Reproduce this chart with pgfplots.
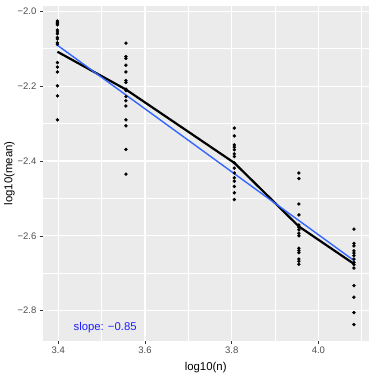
\documentclass[border=0pt]{standalone}
\usepackage{pgfplots}
\pgfplotsset{compat=1.18}
\usepackage{fontspec}
\setmainfont{Liberation Sans}
\definecolor{panelgrey}{HTML}{EBEBEB}
\definecolor{ticktext}{HTML}{4D4D4D}
\definecolor{smoothblue}{HTML}{3366FF}
\definecolor{labelblue}{RGB}{30,30,255}

\begin{document}
\begin{tikzpicture}
\begin{axis}[
  name=ax,
  scale only axis,
  width=326pt, height=335.3pt,
  xmin=3.364, xmax=4.116,
  ymin=-2.881, ymax=-1.985,
  axis background/.style={fill=panelgrey},
  axis x line*=bottom, axis y line*=left,
  axis line style={draw=none},
  xtick={3.4,3.6,3.8,4.0},
  xticklabels={3.4,3.6,3.8,4.0},
  ytick={-2.8,-2.6,-2.4,-2.2,-2.0},
  yticklabels={−2.8,−2.6,−2.4,−2.2,−2.0},
  minor xtick={3.5,3.7,3.9,4.1},
  minor ytick={-2.7,-2.5,-2.3,-2.1},
  grid=both,
  major grid style={white, line width=1.1pt},
  minor grid style={white, line width=0.55pt},
  tick align=outside,
  major tick length=2.75pt,
  minor tick length=0pt,
  tick style={draw=black!80, line width=0.5pt},
  tick label style={font=\fontsize{9.5}{11}\selectfont, text=ticktext},
  label style={font=\fontsize{11.4}{13}\selectfont},
  xlabel={log10(n)},
  ylabel={log10(mean)},
  xlabel style={yshift=-1.5pt},
  ylabel style={yshift=-4pt},
  clip=false,
]
\addplot [only marks, mark=*, mark size=1.5pt, black] table[row sep=\\]{
x y\\
3.398 -2.026\\ 3.398 -2.029\\ 3.398 -2.032\\ 3.398 -2.036\\ 3.398 -2.050\\
3.398 -2.055\\ 3.398 -2.060\\ 3.398 -2.070\\ 3.398 -2.074\\ 3.398 -2.084\\
3.398 -2.088\\ 3.398 -2.137\\ 3.398 -2.149\\ 3.398 -2.162\\ 3.398 -2.199\\
3.398 -2.226\\ 3.398 -2.290\\
3.556 -2.085\\ 3.556 -2.121\\ 3.556 -2.126\\ 3.556 -2.144\\ 3.556 -2.162\\
3.556 -2.185\\ 3.556 -2.190\\ 3.556 -2.208\\ 3.556 -2.212\\ 3.556 -2.228\\
3.556 -2.239\\ 3.556 -2.253\\ 3.556 -2.290\\ 3.556 -2.306\\ 3.556 -2.369\\
3.556 -2.435\\
3.806 -2.312\\ 3.806 -2.333\\ 3.806 -2.357\\ 3.806 -2.363\\ 3.806 -2.370\\
3.806 -2.381\\ 3.806 -2.388\\ 3.806 -2.405\\ 3.806 -2.419\\ 3.806 -2.432\\
3.806 -2.445\\ 3.806 -2.454\\ 3.806 -2.468\\ 3.806 -2.485\\ 3.806 -2.503\\
3.955 -2.432\\ 3.955 -2.447\\ 3.955 -2.515\\ 3.955 -2.544\\ 3.955 -2.571\\
3.955 -2.577\\ 3.955 -2.584\\ 3.955 -2.593\\ 3.955 -2.600\\ 3.955 -2.633\\
3.955 -2.639\\ 3.955 -2.645\\ 3.955 -2.662\\ 3.955 -2.668\\ 3.955 -2.676\\
4.082 -2.582\\ 4.082 -2.620\\ 4.082 -2.627\\ 4.082 -2.640\\ 4.082 -2.646\\
4.082 -2.653\\ 4.082 -2.662\\ 4.082 -2.671\\ 4.082 -2.677\\ 4.082 -2.686\\
4.082 -2.733\\ 4.082 -2.764\\ 4.082 -2.805\\ 4.082 -2.837\\
};
% mean per n
\addplot [black, line width=2.2pt] coordinates {
(3.398,-2.108) (3.556,-2.209) (3.806,-2.405) (3.955,-2.575) (4.082,-2.675)};
% linear fit
\addplot [smoothblue, line width=1.4pt] coordinates {(3.396,-2.089) (4.082,-2.666)};
\node [text=labelblue, font=\fontsize{11.3}{13}\selectfont] at (axis cs:3.508,-2.846) {slope: −0.85};
\end{axis}
\pgfresetboundingbox
\path[use as bounding box] ([xshift=-42.7pt,yshift=-33pt]ax.south west) rectangle ([xshift=5.3pt,yshift=5.7pt]ax.north east);
\end{tikzpicture}
\end{document}
